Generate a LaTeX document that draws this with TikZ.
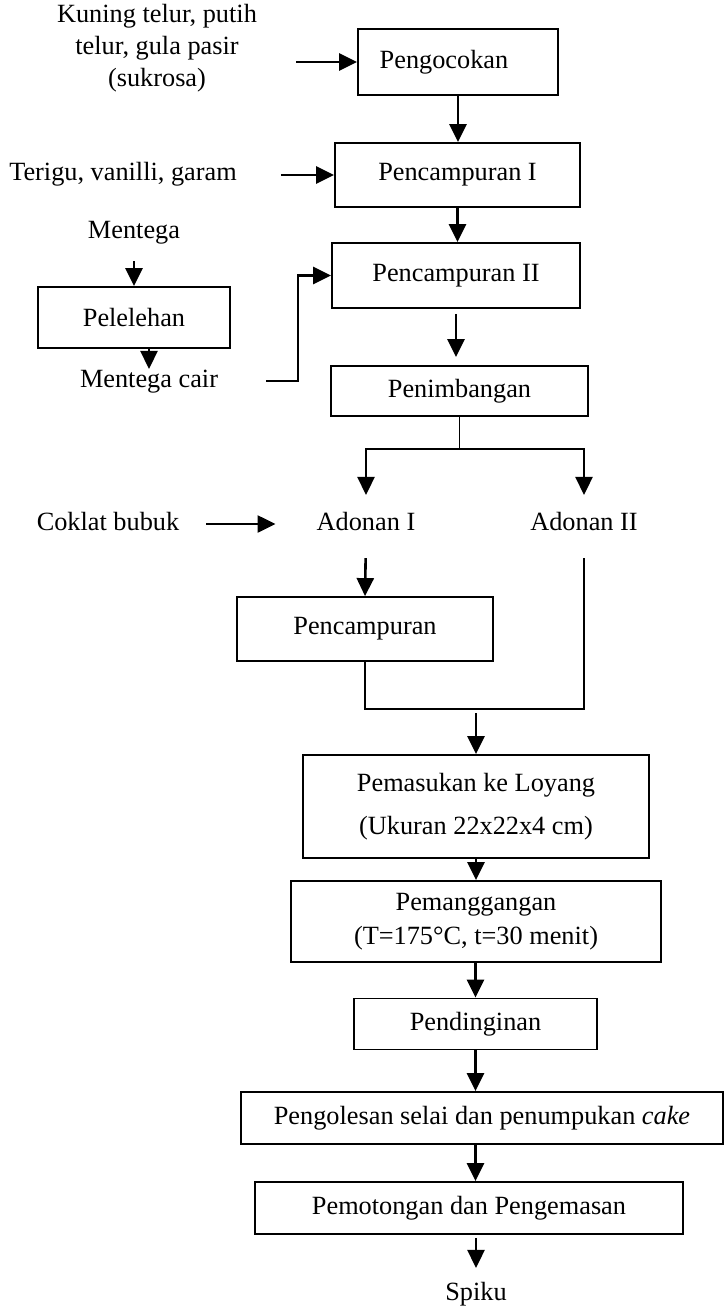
\documentclass[tikz,border=0pt]{standalone}
\usepackage{fontspec}
\setmainfont{Liberation Serif}
\usetikzlibrary{positioning,arrows.meta}

\begin{document}
\begin{tikzpicture}[
      x=1pt, y=-1pt,
      font={\fontsize{26.3pt}{32pt}\selectfont},
      stage/.style={draw, line width=1.8pt, align=center, inner sep=0pt},
      note/.style={inner sep=0pt, text height=17.9pt, text depth=5.8pt},
      arr/.style={line width=2.6pt, -{Triangle[length=18pt,width=17pt]}},
      link/.style={line width=2.4pt},
      stub/.style={line width=1.3pt}
    ]
    \useasboundingbox (0,0) rectangle (725,1309);

    % Ingredients on the left
    \node[inner sep=0pt, align=center] (telur) at (157,48) {Kuning telur, putih\\telur, gula pasir\\(sukrosa)};
    \node[note] (terigu) at (123,174) {Terigu, vanilli, garam};
    \node[note] (mentega) at (134,232) {Mentega};
    \node[stage, minimum width=192pt, minimum height=61pt] (leleh) at (134,317.5) {Pelelehan};
    \node[note] (cair) at (149,381) {Mentega cair};
    \node[note] (coklat) at (108,524) {Coklat bubuk};

    % Main process steps
    \node[stage, minimum width=200pt, minimum height=66pt] (kocok) at (458,62) {Pengocokan\hspace*{28pt}};
    \node[stage, minimum width=245pt, minimum height=64pt] (campur1) at (457.5,175) {Pencampuran I};
    \node[stage, minimum width=248pt, minimum height=65pt] (campur2) at (456,275.5) {Pencampuran II};
    \node[stage, minimum width=257pt, minimum height=50pt] (timbang) at (459.5,391) {Penimbangan};
    \node[note] (adonan1) at (366,524) {Adonan I};
    \node[note] (adonan2) at (584,524) {Adonan II};
    \node[stage, minimum width=256pt, minimum height=64pt] (campur) at (365,629) {Pencampuran};
    \node[stage, minimum width=346pt, minimum height=103pt] (loyang) at (476,806.5)
      {Pemasukan ke Loyang\\[11pt](Ukuran 22x22x4 cm)};
    \node[stage, minimum width=370pt, minimum height=81pt] (panggang) at (476,921.5)
      {Pemanggangan\\[2pt](T=175°C, t=30 menit)};
    \node[stage, minimum width=243pt, minimum height=51pt] (dingin) at (475.5,1024) {Pendinginan};
    \node[stage, minimum width=482pt, minimum height=52pt] (oles) at (482,1118)
      {Pengolesan selai dan penumpukan \textit{cake}};
    \node[stage, minimum width=428pt, minimum height=52pt] (potong) at (469,1208) {Pemotongan dan Pengemasan};
    \node[note] (spiku) at (476,1294) {Spiku};

    % Arrows
    \draw[arr, shorten <=39pt] (telur.east |- kocok.west) -- (kocok.west);
    \draw[arr] (kocok.south) -- (kocok.south |- campur1.north);
    \draw[arr, shorten <=44pt] (terigu.east |- campur1.west) -- (campur1.west);
    \draw[arr] (campur1.south) -- (campur1.south |- campur2.north);
    \draw[arr, shorten <=17pt] (mentega.south) -- (mentega.south |- leleh.north);
    \draw[arr] (leleh.south -| cair.north) -- (cair.north);
    \draw[arr, shorten <=48pt] (cair.east) -| ([xshift=-33pt]campur2.west) -- (campur2.west);
    \draw[arr, shorten <=5pt, shorten >=8pt] (campur2.south) -- (campur2.south |- timbang.north);

    % Splitting the batter
    \draw[stub] (timbang.south) -- ++(0,32) coordinate (bagi);
    \draw[arr, shorten >=17pt] (bagi) -| (adonan1.north);
    \draw[arr, shorten >=17pt] (bagi) -| (adonan2.north);
    \draw[arr, shorten <=27pt, shorten >=41pt] (coklat.east) -- (adonan1.west);
    \draw[arr, shorten <=22pt] (adonan1.south) -- (campur.north);

    % Joining both batters
    \coordinate (gabung) at (476,709);
    \draw[link, shorten <=22pt] (adonan2.south) |- (gabung) -| (campur.south);
    \draw[arr, shorten <=4pt] (gabung) -- (loyang.north);

    \draw[arr] (loyang.south) -- (panggang.north);
    \draw[arr] (panggang.south) -- (dingin.south |- panggang.south) -- (dingin.north);
    \draw[arr] (dingin.south) -- (dingin.south |- oles.north);
    \draw[arr] (dingin.south |- oles.south) -- (dingin.south |- potong.north);
    \draw[arr, shorten <=3pt, shorten >=14pt] (spiku.north |- potong.south) -- (spiku.north);

  \end{tikzpicture}
\end{document}
